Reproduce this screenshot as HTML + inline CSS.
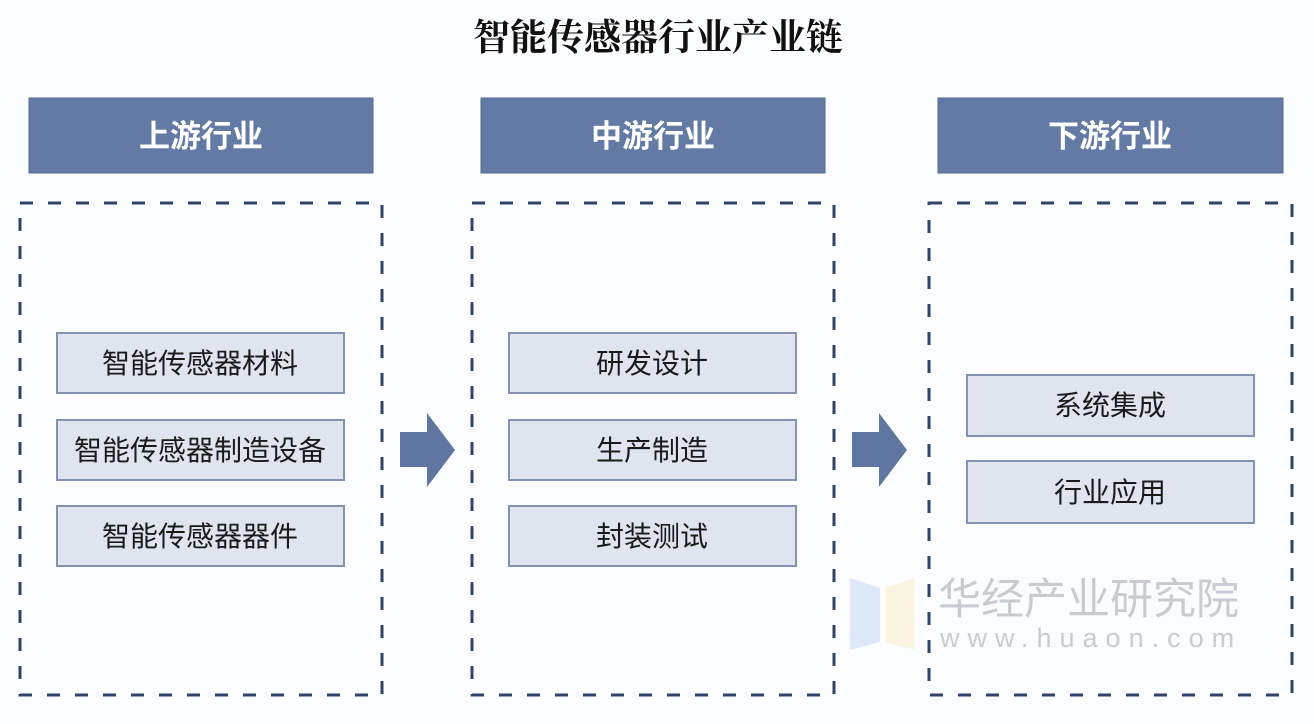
<!DOCTYPE html>
<html><head><meta charset="utf-8"><style>
html,body{margin:0;padding:0;background:#fbfcfe;}
svg{display:block}
</style></head><body>
<svg width="1314" height="724" xmlns="http://www.w3.org/2000/svg">
<rect width="1314" height="724" fill="#fbfcfe"/>
<text x="658" y="50" text-anchor="middle" font-family="'Liberation Serif','Noto Serif CJK SC',serif" font-weight="bold" font-size="37" fill="#111">智能传感器行业产业链</text>
<g fill="#637aa4" stroke="#55698f" stroke-width="1">
<rect x="29" y="98" width="344" height="75"/>
<rect x="481" y="98" width="344" height="75"/>
<rect x="938" y="98" width="345" height="75"/>
</g>
<g font-family="'Liberation Sans','Noto Sans CJK SC',sans-serif" font-weight="bold" font-size="31" fill="#fff" text-anchor="middle">
<text x="201" y="147">上游行业</text>
<text x="653" y="147">中游行业</text>
<text x="1110" y="147">下游行业</text>
</g>
<g fill="none" stroke="#2f4468" stroke-width="3" stroke-dasharray="13,15">
<rect x="20" y="203" width="362" height="492"/>
<rect x="472" y="203" width="362" height="492"/>
<rect x="929" y="203" width="363" height="492"/>
</g>
<g fill="#dfe4ef" stroke="#8392b2" stroke-width="2">
<rect x="57" y="333" width="287" height="60"/>
<rect x="57" y="420" width="287" height="60"/>
<rect x="57" y="506" width="287" height="60"/>
<rect x="509" y="333" width="287" height="60"/>
<rect x="509" y="420" width="287" height="60"/>
<rect x="509" y="506" width="287" height="60"/>
<rect x="967" y="375" width="287" height="61"/>
<rect x="967" y="461" width="287" height="62"/>
</g>
<g font-family="'Liberation Sans','Noto Sans CJK SC',sans-serif" font-size="28" fill="#1a1a1a" text-anchor="middle">
<text x="200" y="373">智能传感器材料</text>
<text x="200" y="460">智能传感器制造设备</text>
<text x="200" y="546">智能传感器器件</text>
<text x="652" y="373">研发设计</text>
<text x="652" y="460">生产制造</text>
<text x="652" y="546">封装测试</text>
<text x="1110" y="415">系统集成</text>
<text x="1110" y="502">行业应用</text>
</g>
<g fill="#5f76a0">
<polygon points="400,432 427,432 427,413 455,450 427,487 427,467 400,467"/>
<polygon points="852,432 879,432 879,413 907,450 879,487 879,467 852,467"/>
</g>
<polygon points="850,578 880,588 880,642 850,650" fill="#d6e4f7" opacity="0.8"/>
<polygon points="885,588 915,578 915,650 885,642" fill="#fbf1d8" opacity="0.8"/>
<g font-family="'Liberation Sans','Noto Sans CJK SC',sans-serif" fill="#c8cbd1" text-anchor="start">
<text x="938" y="614" font-size="43">华经产业研究院</text>
<text x="940" y="647" font-size="27" letter-spacing="8">www.huaon.com</text>
</g>
</svg>
</body></html>
